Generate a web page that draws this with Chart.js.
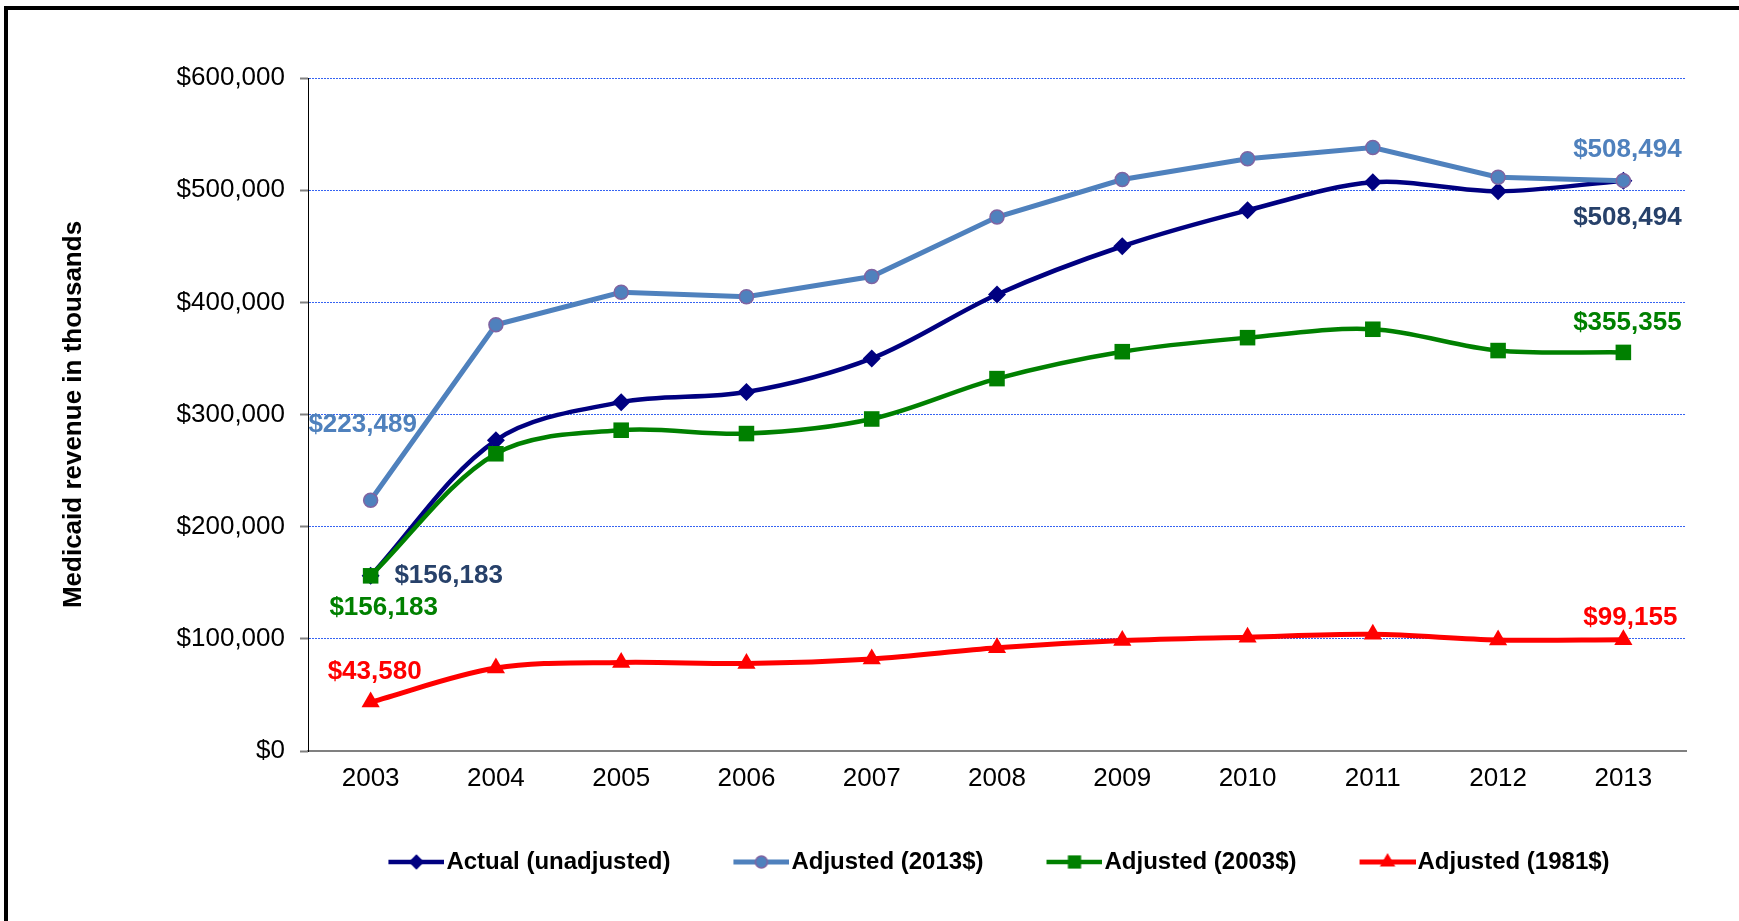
<!DOCTYPE html>
<html>
<head>
<meta charset="utf-8">
<title>Medicaid revenue</title>
<script src="https://cdn.jsdelivr.net/npm/chart.js@4.4.1/dist/chart.umd.min.js"></script>
<style>
html, body { margin: 0; padding: 0; background: #fff; overflow: hidden; }
#wrap { position: relative; width: 1739px; height: 921px; }
</style>
</head>
<body>
<div id="wrap"><canvas id="chart"></canvas></div>
<script>
// revenue in thousands of dollars, by year
const years = ['2003', '2004', '2005', '2006', '2007', '2008', '2009', '2010', '2011', '2012', '2013'];
const actual       = [156183, 277000, 311000, 320000, 350000, 407000, 450000, 482000, 507000, 499000, 508494];
const adjusted2013 = [223489, 380000, 409000, 405000, 423000, 476000, 509500, 528000, 538000, 511500, 508494];
const adjusted2003 = [156183, 265000, 286000, 283000, 296000, 332000, 356000, 368500, 376000, 357000, 355355];
const adjusted1981 = [43580, 74000, 79000, 78000, 82000, 92000, 98500, 101500, 104000, 99000, 99155];

const seriesNames = ['Actual (unadjusted)', 'Adjusted (2013$)', 'Adjusted (2003$)', 'Adjusted (1981$)'];
const yMin = 0, yMax = 600000, yStep = 100000;

const FONT = '"Liberation Sans", Arial, Helvetica, sans-serif';
Chart.defaults.font.family = FONT;
Chart.defaults.color = '#000';

function money(v) {
	return '$' + Number(v).toLocaleString('en-US');
}

// which points get a value label, and where it sits relative to the point
const valueLabels = [
	{ ds: 1, idx: 0,  dx: -8, dy: -75, color: '#4F81BD' },
	{ ds: 1, idx: 10, dx: 4,  dy: -31, color: '#4F81BD' },
	{ ds: 0, idx: 0,  dx: 78, dy: 0,   color: '#27416A' },
	{ ds: 0, idx: 10, dx: 4,  dy: 37,  color: '#27416A' },
	{ ds: 2, idx: 0,  dx: 13, dy: 32,  color: '#008000' },
	{ ds: 2, idx: 10, dx: 4,  dy: -30, color: '#008000' },
	{ ds: 3, idx: 0,  dx: 4,  dy: -30, color: '#FF0000' },
	{ ds: 3, idx: 10, dx: 7,  dy: -22, color: '#FF0000' }
];

const valueLabelPlugin = {
	id: 'valueLabels',
	afterDatasetsDraw(chart) {
		const ctx = chart.ctx;
		ctx.save();
		ctx.font = 'bold 26px ' + FONT;
		ctx.textAlign = 'center';
		ctx.textBaseline = 'middle';
		valueLabels.forEach(l => {
			const pt = chart.getDatasetMeta(l.ds).data[l.idx];
			const v = chart.data.datasets[l.ds].data[l.idx];
			ctx.fillStyle = l.color;
			ctx.fillText(money(v), pt.x + l.dx, pt.y + l.dy);
		});
		ctx.restore();
	}
};

// black rule along the left and top edges
const framePlugin = {
	id: 'frame',
	afterDraw(chart) {
		const ctx = chart.ctx;
		ctx.save();
		ctx.fillStyle = '#000';
		ctx.fillRect(4, 6, 1739, 4);
		ctx.fillRect(4, 6, 4, 921);
		ctx.restore();
	}
};

// legend swatch: short line with the marker in the middle, right-aligned in the icon
function legendIcon(ds) {
	const c = document.createElement('canvas');
	c.width = 70;
	c.height = 26;
	const g = c.getContext('2d');
	g.strokeStyle = ds.borderColor;
	g.lineWidth = ds.borderWidth;
	g.beginPath();
	g.moveTo(14, 13);
	g.lineTo(70, 13);
	g.stroke();
	g.fillStyle = ds.pointBackgroundColor;
	g.strokeStyle = ds.pointBorderColor || ds.pointBackgroundColor;
	g.lineWidth = ds.pointBorderWidth || 0;
	Chart.helpers.drawPoint(g, {
		pointStyle: ds.pointStyle,
		radius: ds.pointRadius * 0.85,
		borderWidth: ds.pointBorderWidth || 0,
		rotation: 0
	}, 42, 13);
	return c;
}

const datasets = [
	{
		label: seriesNames[0], data: actual,
		borderColor: '#000080', borderWidth: 4.5, tension: 0.33,
		pointStyle: 'rectRot', pointRadius: 9, pointBorderWidth: 0,
		pointBackgroundColor: '#000080', order: 4
	},
	{
		label: seriesNames[1], data: adjusted2013,
		borderColor: '#4F81BD', borderWidth: 5, tension: 0,
		pointStyle: 'circle', pointRadius: 7, pointBorderWidth: 1.5,
		pointBackgroundColor: '#4F81BD', pointBorderColor: '#8064A2', order: 3
	},
	{
		label: seriesNames[2], data: adjusted2003,
		borderColor: '#008000', borderWidth: 4.5, tension: 0.33,
		pointStyle: 'rect', pointRadius: 11, pointBorderWidth: 0,
		pointBackgroundColor: '#008000', order: 2
	},
	{
		label: seriesNames[3], data: adjusted1981,
		borderColor: '#FF0000', borderWidth: 5, tension: 0.33,
		pointStyle: 'triangle', pointRadius: 10.5, pointBorderWidth: 0,
		pointBackgroundColor: '#FF0000', order: 1
	}
];

const icons = datasets.map(legendIcon);

const config = {
	type: 'line',
	data: { labels: years, datasets: datasets },
	options: {
		responsive: true,
		maintainAspectRatio: false,
		animation: false,
		layout: { padding: { left: 0, top: 78, right: 53, bottom: 37 } },
		plugins: {
			tooltip: { enabled: false },
			legend: {
				position: 'bottom',
				fullSize: false,
				labels: {
					usePointStyle: true,
					pointStyleWidth: 50,
					padding: 59,
					color: '#000',
					font: { size: 24, weight: 'bold' },
					sort: (a, b) => a.datasetIndex - b.datasetIndex,
					generateLabels(chart) {
						const items = Chart.defaults.plugins.legend.labels.generateLabels(chart);
						items.forEach(it => { it.pointStyle = icons[it.datasetIndex]; });
						return items;
					}
				}
			}
		},
		scales: {
			x: {
				offset: true,
				afterFit(s) { s.height = 40; },
				grid: { display: false, drawTicks: false },
				border: { display: true, color: '#808080', width: 2 },
				ticks: { padding: 12, color: '#000', font: { size: 26 }, maxRotation: 0, autoSkip: false }
			},
			y: {
				min: yMin,
				max: yMax,
				afterFit(s) { s.width = 308; },
				ticks: {
					stepSize: yStep,
					padding: 15,
					color: '#000',
					font: { size: 26 },
					callback: v => money(v)
				},
				grid: {
					color: c => (c.tick && c.tick.value === 0) ? 'rgba(0,0,0,0)' : '#3563F2',
					lineWidth: 1,
					tickLength: 8,
					tickColor: '#808080',
					tickWidth: 2
				},
				border: { display: true, color: '#000', width: 1, dash: [2, 1] },
				title: {
					display: true,
					text: 'Medicaid revenue in thousands',
					color: '#000',
					font: { size: 26, weight: 'bold' },
					padding: { top: 58, bottom: 0 }
				}
			}
		}
	},
	plugins: [valueLabelPlugin, framePlugin]
};

new Chart(document.getElementById('chart'), config);
</script>
</body>
</html>
